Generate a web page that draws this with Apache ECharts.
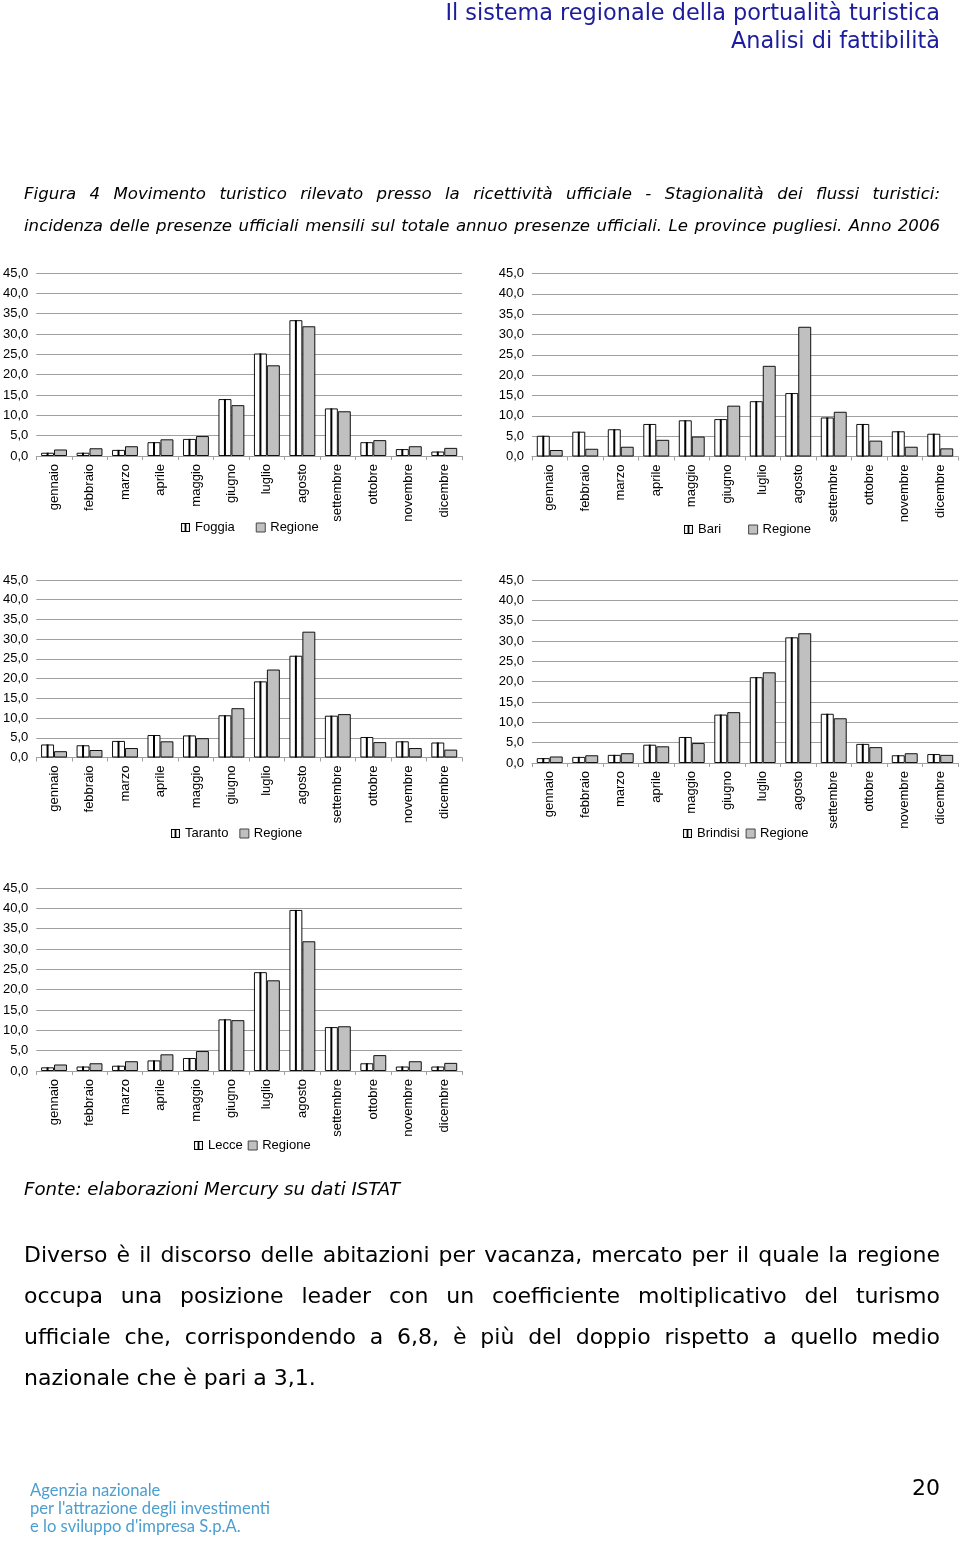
<!DOCTYPE html>
<html>
<head>
<meta charset="utf-8">
<script src="https://cdn.jsdelivr.net/npm/echarts@6/dist/echarts.min.js"></script>
<style>
  html, body { margin: 0; padding: 0; background: #fff; }
  #page { position: relative; width: 960px; height: 1544px; overflow: hidden; }
  #chart { position: absolute; left: 0; top: 0; width: 960px; height: 1544px; }
  .t { position: absolute; white-space: nowrap; }
  .hdr { right: 20px; color: #1c1c9c; font-family: "DejaVu Sans", sans-serif; font-size: 22.4px; line-height: 28px; text-align: right; }
  .cap { left: 24px; width: 916px; font-family: "DejaVu Sans", sans-serif; font-style: italic; font-size: 16.6px; line-height: 20px; color: #000; text-align: justify; text-align-last: justify; white-space: normal; }
  .par { left: 24px; width: 916px; font-family: "DejaVu Sans", sans-serif; font-size: 22px; line-height: 28px; color: #000; text-align: justify; text-align-last: justify; white-space: normal; }
  .logo { left: 30px; color: #4a9fd0; font-family: "Lato", sans-serif; font-size: 16.6px; line-height: 18px; }
</style>
</head>
<body>
<div id="page">
  <div id="chart"></div>
  <div class="t hdr" style="top:-2px;">Il sistema regionale della portualità turistica</div>
  <div class="t hdr" style="top:26px;">Analisi di fattibilità</div>
  <div class="t cap" style="top:184px;">Figura 4 Movimento turistico rilevato presso la ricettività ufficiale - Stagionalità dei flussi turistici:</div>
  <div class="t cap" style="top:216px;">incidenza delle presenze ufficiali mensili sul totale annuo presenze ufficiali. Le province pugliesi. Anno 2006</div>
  <div class="t" style="left:24px; top:1179px; font-family:'DejaVu Sans',sans-serif; font-style:italic; font-size:18.2px; line-height:20px;">Fonte: elaborazioni Mercury su dati ISTAT</div>
  <div class="t par" style="top:1241px;">Diverso è il discorso delle abitazioni per vacanza, mercato per il quale la regione</div>
  <div class="t par" style="top:1282px;">occupa una posizione leader con un coefficiente moltiplicativo del turismo</div>
  <div class="t par" style="top:1323px;">ufficiale che, corrispondendo a 6,8, è più del doppio rispetto a quello medio</div>
  <div class="t" style="left:24px; top:1364px; font-family:'DejaVu Sans',sans-serif; font-size:22px; line-height:28px;">nazionale che è pari a 3,1.</div>
  <div class="t logo" style="top:1481px;">Agenzia nazionale</div>
  <div class="t logo" style="top:1499px;">per l'attrazione degli investimenti</div>
  <div class="t logo" style="top:1517px;">e lo sviluppo d'impresa S.p.A.</div>
  <div class="t" style="right:20px; top:1474px; font-family:'DejaVu Sans',sans-serif; font-size:22px; line-height:28px;">20</div>
</div>
<script>
// ---------------- data ----------------
const months = ['gennaio','febbraio','marzo','aprile','maggio','giugno','luglio','agosto','settembre','ottobre','novembre','dicembre'];
const regione  = [1.6, 1.9, 2.4, 4.1, 4.9, 12.5, 22.3, 31.9, 11.0, 3.9, 2.4, 2.0];
const foggia   = [0.8, 0.8, 1.5, 3.4, 4.2, 14.0, 25.2, 33.4, 11.7, 3.4, 1.7, 1.1];
const bari     = [5.1, 6.1, 6.7, 8.0, 8.9, 9.2, 13.6, 15.6, 9.6, 8.0, 6.2, 5.6];
const taranto  = [3.3, 3.1, 4.2, 5.7, 5.6, 10.7, 19.3, 25.8, 10.6, 5.2, 4.1, 3.8];
const brindisi = [1.2, 1.5, 2.0, 4.5, 6.4, 11.9, 21.1, 30.9, 12.1, 4.7, 1.9, 2.2];
const lecce    = [0.9, 1.1, 1.3, 2.6, 3.2, 12.7, 24.3, 39.6, 10.8, 1.9, 1.1, 1.1];
const yMin = 0, yMax = 45, yStep = 5;
const yTickLabels = ['0,0','5,0','10,0','15,0','20,0','25,0','30,0','35,0','40,0','45,0'];

// ---------------- layout ----------------
const panels = [
  { name: 'Foggia',   values: foggia,   grid: { left: 35,  top: 273,   width: 427, height: 183 },   legend: { left: 181, top: 521, gap: 21 } },
  { name: 'Bari',     values: bari,     grid: { left: 532, top: 273.5, width: 426, height: 183 },   legend: { left: 684, top: 523, gap: 27 } },
  { name: 'Taranto',  values: taranto,  grid: { left: 35,  top: 580,   width: 427, height: 177.5 }, legend: { left: 171, top: 827, gap: 11 } },
  { name: 'Brindisi', values: brindisi, grid: { left: 532, top: 580,   width: 426, height: 183 },   legend: { left: 683, top: 827, gap: 6 } },
  { name: 'Lecce',    values: lecce,    grid: { left: 35,  top: 888,   width: 427, height: 183 },   legend: { left: 194, top: 1139, gap: 5 } }
];

const FONT = '"Liberation Sans", Arial, sans-serif';
const GRID_COLOR = '#a0a0a0';
const BAR_BORDER = '#111';
const REG_FILL = '#c0c0c0';
const CAT_GAP = 0.27;
const provIcon = 'path://M0,0H10V10H0Z M1.2,1.2V8.8H4V1.2Z M6,1.2V8.8H8.8V1.2Z';

const option = {
  animation: false,
  backgroundColor: 'transparent',
  grid: [], xAxis: [], yAxis: [], legend: [], series: []
};

panels.forEach((p, gi) => {
  option.grid.push(Object.assign({ containLabel: false }, p.grid));
  option.xAxis.push({
    type: 'category', gridIndex: gi, data: months,
    axisLine: { show: true, lineStyle: { color: GRID_COLOR, width: 1 } },
    axisTick: { show: true, alignWithLabel: false, length: 4, lineStyle: { color: GRID_COLOR } },
    axisLabel: { rotate: 90, margin: 8, fontSize: 13, fontFamily: FONT, color: '#000', interval: 0 }
  });
  option.yAxis.push({
    type: 'value', gridIndex: gi, min: yMin, max: yMax, interval: yStep,
    axisLine: { show: false }, axisTick: { show: false },
    splitLine: { show: true, lineStyle: { color: GRID_COLOR, width: 1 } },
    axisLabel: { margin: 8, fontSize: 13, fontFamily: FONT, color: '#000',
      formatter: v => yTickLabels[Math.round((v - yMin) / yStep)] }
  });
  option.legend.push({
    left: p.legend.left, top: p.legend.top, orient: 'horizontal', padding: 0,
    itemWidth: 9, itemHeight: 9, itemGap: p.legend.gap,
    textStyle: { fontSize: 13, fontFamily: FONT, color: '#000' },
    selectedMode: false,
    data: [
      { name: p.name, icon: provIcon, itemStyle: { color: '#000', borderWidth: 0 } },
      { name: 'Regione', icon: 'rect', itemStyle: { color: REG_FILL, borderColor: '#444', borderWidth: 1 } }
    ]
  });
  option.series.push({
    type: 'bar', name: p.name, xAxisIndex: gi, yAxisIndex: gi, data: p.values,
    barGap: '0%', barCategoryGap: (CAT_GAP * 100) + '%',
    itemStyle: { color: '#fff', borderColor: BAR_BORDER, borderWidth: 1 },
    emphasis: { disabled: true }
  });
  option.series.push({
    type: 'bar', name: 'Regione', xAxisIndex: gi, yAxisIndex: gi, data: regione,
    barGap: '0%', barCategoryGap: (CAT_GAP * 100) + '%',
    itemStyle: { color: REG_FILL, borderColor: BAR_BORDER, borderWidth: 1 },
    emphasis: { disabled: true }
  });
  // central black stripe of the province bars (pattern fill), drawn through the axis scales
  option.series.push({
    type: 'custom', name: p.name + '_stripe', xAxisIndex: gi, yAxisIndex: gi, z: 5, silent: true,
    data: p.values.map((v, i) => [i, v]),
    renderItem: (params, api) => {
      const idx = api.value(0), v = api.value(1);
      const band = api.size([1, 0])[0];
      const barW = band * (1 - CAT_GAP) / 2;
      const top = api.coord([idx, v]);
      const base = api.coord([idx, 0]);
      const cx = top[0] - barW / 2;
      return { type: 'rect', shape: { x: cx - 1, y: top[1], width: 2, height: base[1] - top[1] }, style: { fill: '#000' } };
    }
  });
});

const chart = echarts.init(document.getElementById('chart'), null, { renderer: 'canvas', width: 960, height: 1544 });
chart.setOption(option);
</script>
</body>
</html>
